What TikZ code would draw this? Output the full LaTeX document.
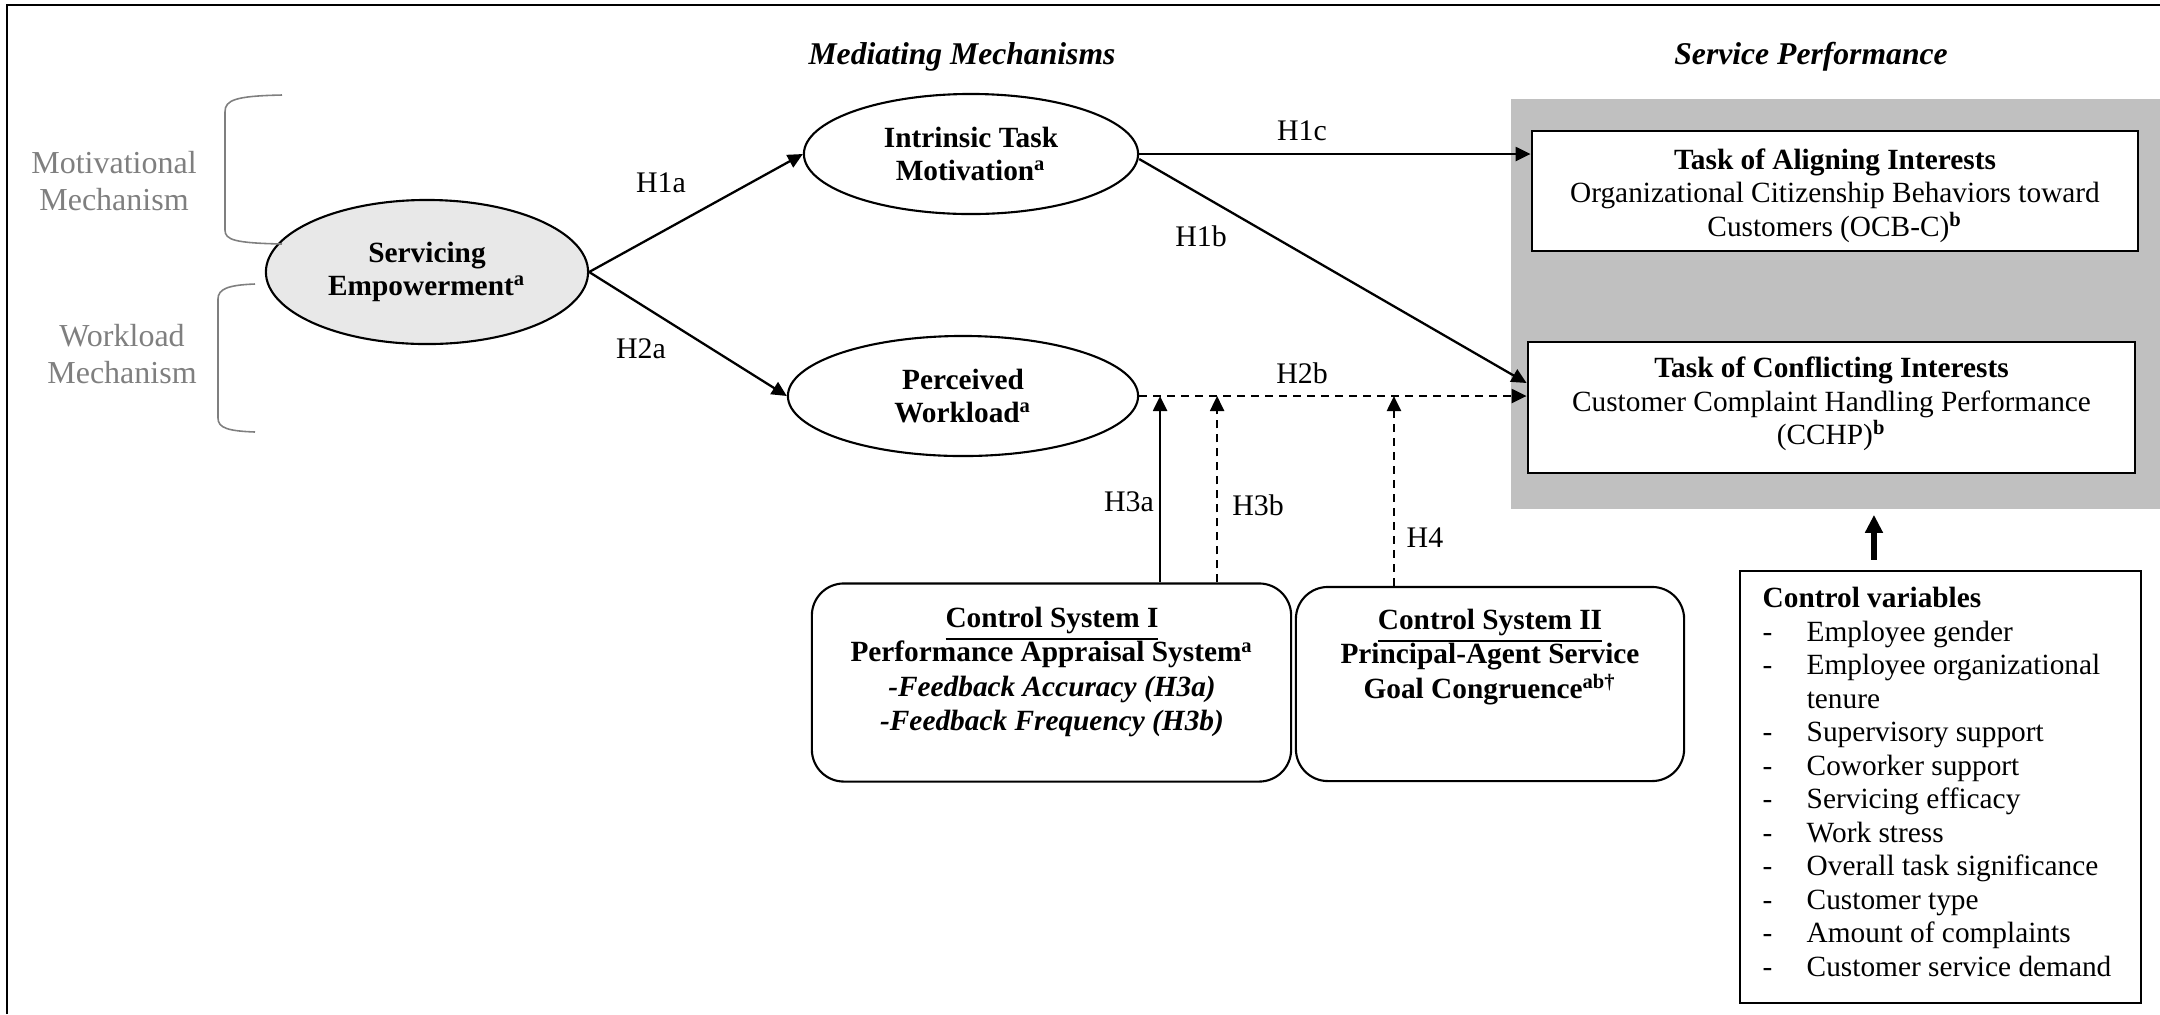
\documentclass[tikz,border=0pt]{standalone}
\usepackage{fontspec}
\setmainfont{Liberation Serif}
\usetikzlibrary{arrows.meta,shapes.geometric,calc}
\definecolor{gray50}{HTML}{7F7F7F}
\definecolor{boxgray}{HTML}{C0C0C0}
\definecolor{ellgray}{HTML}{E8E8E8}
\begin{document}
\begin{tikzpicture}[x=0.01cm,y=-0.01cm,
  every node/.style={font=\fontsize{8.34pt}{9.53pt}\selectfont, inner sep=0pt},
  ell/.style={draw, ellipse, line width=0.6pt, align=center, font=\fontsize{8.34pt}{9.53pt}\selectfont\bfseries},
  tbox/.style={draw, line width=0.7pt, fill=white, align=center},
  cbox/.style={draw, rounded corners=0.32cm, line width=0.6pt},
  boldtxt/.style={align=center, font=\fontsize{8.34pt}{9.7pt}\selectfont\bfseries},
  lab/.style={font=\fontsize{8.5pt}{10pt}\selectfont},
  glab/.style={text=gray50, align=center, font=\fontsize{9.1pt}{10.5pt}\selectfont},
  hdr/.style={font=\fontsize{9pt}{10pt}\selectfont\bfseries\itshape},
  conn/.style={line width=0.65pt, -{Triangle[length=0.15cm,width=0.14cm]}},
  dconn/.style={conn, dash pattern=on 0.08cm off 0.06cm},
  brace/.style={draw=gray50, line width=0.45pt},
]
\useasboundingbox (0,0) rectangle (2160,1014);

% outer frame (only top and left visible)
\draw[line width=0.6pt] (7,1014) -- (7,5) -- (2160,5);

% headers
\node[hdr] (mm) at (962,57) {Mediating Mechanisms};
\node[hdr] (sp) at (1811,57) {Service Performance};

% gray performance area
\node[fill=boxgray, minimum width=6.49cm, minimum height=4.10cm] (perf) at (1835.5,304) {};

% outcome boxes
\node[tbox, minimum width=6.06cm, minimum height=1.20cm] (ocb) at (1835,191)
  {\rule{0pt}{0.30cm}\textbf{Task of Aligning Interests}\\Organizational Citizenship Behaviors toward\\Customers (OCB-C)\textsuperscript{\textbf{b}}};
\node[tbox, minimum width=6.07cm, minimum height=1.31cm] (cchp) at (1831.5,407.5)
  {\textbf{Task of Conflicting Interests}\\Customer Complaint Handling Performance\\(CCHP)\textsuperscript{\textbf{b}}\rule[-0.13cm]{0pt}{0.13cm}};

% ellipses
\node[ell, fill=ellgray, minimum width=3.22cm, minimum height=1.44cm] (serv) at (427,272) {Servicing\\Empowerment\textsuperscript{a}};
\node[ell, minimum width=3.34cm, minimum height=1.20cm] (intr) at (971,154) {Intrinsic Task\\Motivation\textsuperscript{a}};
\node[ell, minimum width=3.50cm, minimum height=1.20cm] (perc) at (963,396) {Perceived\\Workload\textsuperscript{a}};

% mechanism labels and brackets
\node[glab] (motl) at (114,181) {Motivational\\Mechanism};
\node[glab] (workl) at (122,354) {Workload\\Mechanism};
\draw[brace] (282,95) .. controls (235,96) and (225,100) .. (225,112) -- (225,230) .. controls (225,240) and (235,243) .. (282,244);
\draw[brace] (255,284) .. controls (228,285) and (218,289) .. (218,299) -- (218,418) .. controls (218,428) and (228,431) .. (255,432);

% control systems
\node[cbox, minimum width=4.79cm, minimum height=1.98cm] (cs1) at (1051.5,682.5) {};
\node[boldtxt] (cs1t) at (1052,672) {\underline{Control System I}\\Performance Appraisal System\textsuperscript{a}\\\textit{-Feedback Accuracy (H3a)}\\\textit{-Feedback Frequency (H3b)}};
\node[cbox, minimum width=3.88cm, minimum height=1.94cm] (cs2) at (1490,684) {};
\node[boldtxt] (cs2t) at (1490,657) {\underline{Control System II}\\Principal-Agent Service\\Goal Congruence\textsuperscript{ab†}};

% control variables
\node[draw, line width=0.6pt, minimum width=4.01cm, minimum height=4.32cm] (cv) at (1940.5,787) {};
\node[anchor=north west, align=left] (cvt) at (1762,583.5) {%
\begin{tabular}{@{}p{0.44cm}@{}l@{}}
\multicolumn{2}{@{}l}{\textbf{Control variables}}\\
- & Employee gender\\
- & Employee organizational\\
  & tenure\\
- & Supervisory support\\
- & Coworker support\\
- & Servicing efficacy\\
- & Work stress\\
- & Overall task significance\\
- & Customer type\\
- & Amount of complaints\\
- & Customer service demand
\end{tabular}};

% connectors
\draw[conn] (serv.east) -- (intr.west);
\draw[conn] (serv.east) -- (perc.west);
\draw[conn] (intr.east) -- (intr.east -| ocb.west);
\draw[conn] ([yshift=-0.05cm]intr.east) -- ([yshift=0.245cm]cchp.west);
\draw[dconn] (perc.east) -- (perc.east -| cchp.west);

\coordinate (h3a) at ([xshift=1.085cm]cs1.north);
\coordinate (h3b) at ([xshift=1.655cm]cs1.north);
\coordinate (h4) at ([xshift=-0.96cm]cs2.north);
\draw[conn] (h3a) -- (h3a |- perc.east);
\draw[dconn] (h3b) -- (h3b |- perc.east);
\draw[dconn] (h4) -- (h4 |- perc.east);

\coordinate (cva) at ([xshift=-0.665cm,yshift=0.1cm]cv.north);
\coordinate (cvb) at (cva |- perf.south);
\draw[line width=1.9pt, -{Triangle[length=0.18cm,width=0.17cm]}, shorten >=0.05cm] (cva) -- (cvb);

% hypothesis labels
\node[lab] (l1a) at (661,183) {H1a};
\node[lab] (l2a) at (641,349) {H2a};
\node[lab] (l1c) at (1302,131) {H1c};
\node[lab] (l1b) at (1201,236) {H1b};
\node[lab] (l2b) at (1302,373) {H2b};
\node[lab] (l3a) at (1129,502) {H3a};
\node[lab] (l3b) at (1258,505) {H3b};
\node[lab] (l4) at (1425,538) {H4};
\end{tikzpicture}
\end{document}
